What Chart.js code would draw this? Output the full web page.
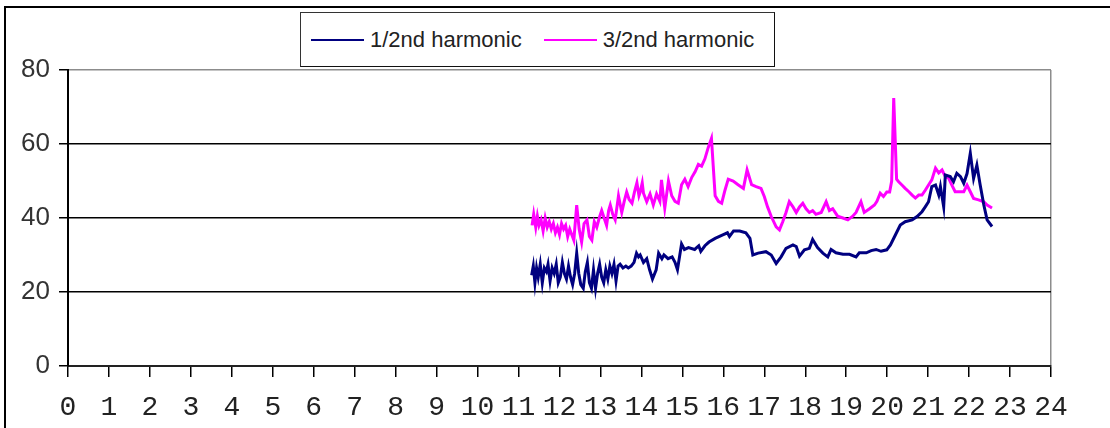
<!DOCTYPE html>
<html lang="en">

<head>
    <meta charset="UTF-8">
    <script src="https://cdn.jsdelivr.net/npm/chart.js"></script>
    <title>Harmonics</title>
    <style>
        body { margin: 0; background: #fff; overflow: hidden; }
        .wrap { position: relative; width: 1110px; height: 428px; overflow: hidden; }
        .frame {
            position: absolute; left: 4px; top: 6px; width: 1200px; height: 500px;
            border-top: 2px solid #000; border-left: 2px solid #000;
        }
        #grafico { position: absolute; left: 0; top: 0; }
        .legenda {
            position: absolute; left: 300px; top: 12px; width: 473px; height: 53px;
            border: 1px solid #333; border-right-color: #111; border-bottom-color: #111;
            background: #fff;
            display: flex; align-items: center;
            font: 22px "Liberation Sans", Arial, sans-serif; color: #222;
        }
        .item { display: flex; align-items: center; margin-left: 10px; }
        .item + .item { margin-left: 22px; }
        .traco { width: 53px; height: 2px; margin-right: 6px; }
    </style>
</head>

<body>
    <div class="wrap">
        <div class="frame"></div>
        <canvas id="grafico" width="1110" height="428"></canvas>
        <div class="legenda" id="legenda"></div>
    </div>

<script>
    // hour of day (x) and value (y)
    const horas1 = [
        11.32, 11.36, 11.4, 11.44, 11.48, 11.53, 11.58, 11.63, 11.68, 11.72,
        11.77, 11.82, 11.87, 11.92, 11.97, 12.02, 12.07, 12.12, 12.17, 12.22,
        12.27, 12.32, 12.37, 12.42, 12.47, 12.52, 12.58, 12.63, 12.68, 12.73,
        12.78, 12.83, 12.88, 12.93, 12.98, 13.03, 13.08, 13.13, 13.18, 13.23,
        13.28, 13.33, 13.38, 13.43, 13.48, 13.55, 13.62, 13.68, 13.75, 13.82,
        13.88, 13.93, 13.97, 14.05, 14.13, 14.2, 14.27, 14.36, 14.42, 14.5,
        14.55, 14.65, 14.75, 14.82, 14.88, 14.98, 15.05, 15.15, 15.3, 15.4,
        15.45, 15.55, 15.65, 15.8, 16.0, 16.1, 16.15, 16.25, 16.4, 16.55,
        16.65, 16.72, 16.85, 17.04, 17.17, 17.29, 17.41, 17.53, 17.7, 17.78,
        17.86, 17.98, 18.1, 18.18, 18.3, 18.43, 18.55, 18.63, 18.75, 18.92,
        19.08, 19.24, 19.32, 19.49, 19.61, 19.73, 19.85, 19.99, 20.08, 20.2,
        20.32, 20.44, 20.61, 20.73, 20.85, 20.93, 21.01, 21.09, 21.18, 21.26,
        21.3, 21.38, 21.42, 21.54, 21.62, 21.7, 21.79, 21.87, 21.95, 22.03,
        22.11, 22.19, 22.27, 22.36, 22.44, 22.56
    ];
    const valores1 = [
        24.5, 27, 22.5, 26.5, 24, 27.5, 22.5, 26.5, 25.5, 27.5,
        23, 26.5, 25, 27.5, 22.5, 24, 28, 25, 23.5, 27,
        24, 22, 25, 30.5, 25, 22, 21, 25.5, 28, 22.5,
        21, 26, 21, 25, 27.5, 24, 22.5, 26, 23.5, 27,
        25, 27.5, 23, 27, 27.5, 26.5, 27, 26.5, 27, 28,
        30.5, 29.5, 30, 28, 29, 26, 23.5, 26, 30.5, 29,
        30, 29, 29.5, 28, 26, 33, 31.5, 32, 31.5, 32.5,
        31, 32.5, 33.5, 34.5, 35.5, 36, 35, 36.5, 36.5, 36,
        34.5, 30, 30.5, 30.9, 30, 27.7, 29.5, 31.8, 32.7, 32.3,
        29.7, 31.4, 31.8, 34.2, 32, 30.5, 29.5, 31.5, 30.6, 30.2,
        30.2, 29.5, 30.6, 30.6, 31.2, 31.5, 31, 31.4, 32.7, 35.4,
        38.1, 39, 39.5, 40.4, 41.7, 43, 44.4, 48.5, 48.9, 46.2,
        48.5, 43, 51.6, 51.2, 49.8, 52.1, 51.2, 49.4, 52, 57.5,
        50.7, 54.3, 49, 43.5, 39.5, 37.7
    ];

    const horas2 = [
        11.33, 11.37, 11.42, 11.46, 11.5, 11.55, 11.6, 11.65, 11.7, 11.75,
        11.8, 11.85, 11.9, 11.95, 12.0, 12.05, 12.1, 12.15, 12.2, 12.25,
        12.3, 12.35, 12.42, 12.48, 12.54, 12.6, 12.67, 12.73, 12.79, 12.85,
        12.91, 12.97, 13.03, 13.09, 13.15, 13.2, 13.24, 13.3, 13.36, 13.44,
        13.52, 13.58, 13.64, 13.7, 13.77, 13.83, 13.89, 13.94, 13.97, 14.02,
        14.05, 14.13, 14.21, 14.29, 14.37, 14.45, 14.49, 14.57, 14.66, 14.74,
        14.82, 14.9, 14.98, 15.06, 15.14, 15.23, 15.31, 15.39, 15.47, 15.55,
        15.63, 15.71, 15.8, 15.88, 15.96, 16.04, 16.12, 16.24, 16.36, 16.49,
        16.58, 16.69, 16.8, 16.92, 17.0, 17.08, 17.17, 17.29, 17.37, 17.45,
        17.53, 17.61, 17.7, 17.78, 17.86, 17.94, 18.02, 18.1, 18.18, 18.26,
        18.39, 18.51, 18.59, 18.67, 18.79, 18.92, 19.04, 19.16, 19.24, 19.36,
        19.44, 19.57, 19.69, 19.75, 19.83, 19.91, 19.99, 20.06, 20.11, 20.16,
        20.23, 20.28, 20.36, 20.44, 20.53, 20.61, 20.69, 20.77, 20.85, 20.93,
        21.01, 21.09, 21.18, 21.26, 21.34, 21.42, 21.5, 21.58, 21.66, 21.79,
        21.87, 21.95, 22.03, 22.11, 22.23, 22.36, 22.44, 22.56
    ];
    const valores2 = [
        38, 41, 37.5, 40.5, 38, 39.5, 36.5, 40, 37.5, 39,
        37, 38.5, 36, 37.5, 35.5, 38.5, 37, 38, 35, 37,
        35.5, 34, 43.5, 37, 33.5, 38.5, 39.5, 35, 34, 39,
        37.5, 40, 42, 40, 38, 42, 43.5, 41, 39.5, 46,
        41.5, 44.5, 47, 45, 44, 47, 49.5, 46, 47, 49.5,
        46.7, 44.4, 46.5, 43.5, 46.5, 44.5, 50.3, 42.7, 50, 46,
        44.5, 44, 49, 50.5, 48.5, 51, 52.5, 54.5, 54, 56,
        59, 61.5, 46, 44.5, 44, 47.5, 50.5, 50, 49, 48,
        53, 49, 48.5, 48, 45.8, 43, 40.4, 37.6, 36.8, 39,
        41.5, 44.4, 43, 41.5, 43, 44, 42.5, 41.5, 42, 41,
        41.5, 44.4, 42, 42.5, 40.5, 40, 39.5, 40.5, 41.5, 44.4,
        41.5, 42.5, 43.5, 44.5, 46.7, 45.8, 47, 47, 50, 72.4,
        50.5, 49.8, 48.9, 48, 47.1, 46.2, 45.4, 46.2, 46.2, 47.5,
        48.9, 50.3, 53.5, 52.2, 53, 51.2, 50.8, 48.9, 47.1, 47.1,
        47.1, 48.9, 47.1, 45.3, 44.9, 44.4, 43.5, 42.7
    ];

    const nomes = ['1/2nd harmonic', '3/2nd harmonic'];
    const cores = ['#000080', '#ff00ff'];

    function pontos(horas, valores) {
        return horas.map((h, i) => ({ x: h, y: valores[i] }));
    }

    const ctx = document.getElementById('grafico').getContext('2d');
    const chart = new Chart(ctx, {
        type: 'line',
        data: {
            datasets: [
                {
                    label: nomes[0],
                    data: pontos(horas1, valores1),
                    borderColor: cores[0],
                    borderWidth: 3,
                    pointRadius: 0,
                    tension: 0,
                    fill: false
                },
                {
                    label: nomes[1],
                    data: pontos(horas2, valores2),
                    borderColor: cores[1],
                    borderWidth: 3,
                    pointRadius: 0,
                    tension: 0,
                    fill: false
                }
            ]
        },
        options: {
            responsive: false,
            animation: false,
            layout: { padding: { left: 0, right: 59, top: 70, bottom: 0 } },
            scales: {
                x: {
                    type: 'linear',
                    min: 0,
                    max: 24,
                    afterFit: (s) => { s.height = 62; },
                    border: { color: '#222', width: 2 },
                    grid: {
                        color: (c) => c.tick && c.tick.value === 24 ? '#8c8c8c' : 'rgba(0,0,0,0)',
                        tickColor: '#000',
                        tickLength: 11,
                        lineWidth: 1.5
                    },
                    ticks: {
                        stepSize: 1,
                        autoSkip: false,
                        maxRotation: 0,
                        padding: 14,
                        color: '#222',
                        font: { family: '"Liberation Mono", monospace', size: 28 }
                    }
                },
                y: {
                    min: 0,
                    max: 80,
                    afterFit: (s) => { s.width = 68; },
                    border: { color: '#000', width: 2 },
                    grid: {
                        color: (c) => c.tick && c.tick.value === 80 ? '#8c8c8c' : '#000',
                        tickColor: '#000',
                        tickLength: 9,
                        lineWidth: 1.5
                    },
                    ticks: {
                        stepSize: 20,
                        padding: 9,
                        color: '#333',
                        font: { family: '"Liberation Sans", Arial, sans-serif', size: 26 }
                    }
                }
            },
            plugins: {
                legend: { display: false },
                tooltip: { enabled: false }
            }
        }
    });

    // legenda em HTML, montada a partir dos datasets
    const legenda = document.getElementById('legenda');
    chart.data.datasets.forEach((ds) => {
        const item = document.createElement('div');
        item.className = 'item';
        const traco = document.createElement('span');
        traco.className = 'traco';
        traco.style.background = ds.borderColor;
        const texto = document.createElement('span');
        texto.textContent = ds.label;
        item.appendChild(traco);
        item.appendChild(texto);
        legenda.appendChild(item);
    });
</script>
</body>

</html>
